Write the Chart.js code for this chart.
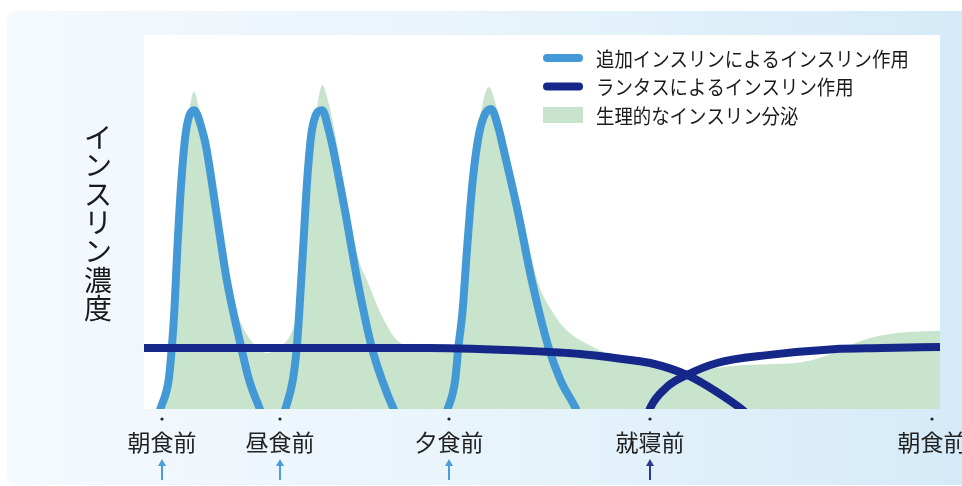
<!DOCTYPE html>
<html lang="ja">
<head>
<meta charset="utf-8">
<script src="https://cdn.jsdelivr.net/npm/chart.js@4/dist/chart.umd.min.js"></script>
<style>
  html, body { margin: 0; padding: 0; background: #fff; }
  #wrap { position: relative; width: 962px; height: 486px; }
</style>
</head>
<body>
<div id="wrap"><canvas id="insulinChart"></canvas></div>
<script>
// time axis runs 0..100 (one day, schematic), concentration 0..100
const tickTimes = [2.3, 17.1, 38.3, 63.6, 99.0];
const tickLabels = ['朝食前', '昼食前', '夕食前', '就寝前', '朝食前'];
const tickArrows = ['add', 'add', 'add', 'lantus', null];

const addTimes = [0.8, 2.1, 3.1, 3.5, 3.8, 4.2, 4.7, 5.3, 6.3, 7.3, 7.8, 9.1, 10.4, 12.2, 13.2, 14.5, 16.1,
  17.8, 18.7, 19.2, 19.5, 20.0, 20.5, 21.1, 22.4, 23.2, 23.7, 25.3, 26.8, 28.6, 29.9, 31.3, 34.7,
  38.2, 39.1, 39.5, 40.0, 40.6, 41.3, 42.2, 43.6, 44.6, 45.1, 47.0, 48.7, 50.8, 52.3, 54.2, 56.0];
const addValues = [-8.3, 0.3, 7.8, 16.6, 25.7, 43.3, 61.2, 74.6, 79.9, 74.6, 70.1, 52.4, 34.5, 16.6, 7.8, 0.3, -8.3,
  0.3, 7.8, 16.6, 25.7, 43.3, 61.2, 74.6, 79.9, 74.6, 70.1, 52.4, 34.5, 16.6, 7.8, 0.3, -13.6,
  0.3, 7.8, 16.6, 25.7, 43.3, 61.2, 74.6, 80.2, 74.6, 70.1, 52.4, 34.5, 16.6, 7.8, 0.3, -8.3];

const lantusTimes1 = [0, 19.6, 35.9, 48.5, 54.8, 61.1, 63.6, 68.2, 72.0, 75.5, 78.0];
const lantusValues1 = [16.3, 16.3, 16.3, 15.5, 14.7, 13.1, 12.3, 9.1, 4.5, -0.8, -6.1];
const lantusTimes2 = [62.7, 63.6, 65.7, 68.2, 72.0, 78.3, 86.6, 92.8, 100];
const lantusValues2 = [-5.6, 0.3, 5.9, 9.1, 12.3, 14.4, 16.0, 16.3, 16.6];

const physTimes = [0, 2.0, 2.5, 3.0, 3.5, 4.2, 4.9, 5.5, 6.3, 7.0, 7.9, 9.2, 10.7, 11.7, 13.4, 15.5, 17.1,
  18.5, 19.1, 19.9, 20.7, 21.5, 22.4, 23.1, 24.3, 25.6, 27.1, 28.0, 29.7, 31.8, 33.8, 37.2, 39.1,
  39.8, 40.6, 41.3, 42.2, 43.3, 44.4, 45.6, 47.5, 49.4, 51.4, 53.5, 56.4, 59.4, 63.6, 68.3, 75.8,
  82.8, 86.6, 90.3, 94.6, 100];
const physValues = [0, 0, 3.7, 10.4, 21.1, 37.2, 61.2, 76.7, 84.8, 79.4, 70.1, 52.4, 34.5, 25.7, 18.4, 15.0, 16.6,
  20.3, 25.1, 42.5, 61.2, 76.7, 86.6, 82.6, 70.1, 52.4, 39.0, 34.5, 25.7, 18.4, 16.6, 16.8, 17.1,
  25.7, 42.5, 61.2, 77.3, 86.1, 79.9, 70.1, 52.4, 34.5, 25.7, 20.3, 16.6, 13.9, 11.8, 10.4, 11.8,
  12.6, 15.0, 18.4, 20.3, 20.9];

const yTitle = 'インスリン濃度';

const FONT = '"Noto Sans CJK JP", "Noto Sans", sans-serif';
const ADD_COLOR = '#4399d6';
const LANTUS_COLOR = '#15288a';
const PHYS_COLOR = '#c9e4cd';

function toPoints(xs, ys) {
  return xs.map((x, i) => ({ x: x, y: ys[i] }));
}

// panel background + white plot area
const backgroundPlugin = {
  id: 'panelBackground',
  beforeDraw(c) {
    const ctx = c.ctx;
    const area = c.chartArea;
    ctx.save();
    const grad = ctx.createLinearGradient(7, 0, 962, 0);
    grad.addColorStop(0, '#f4f9fe');
    grad.addColorStop(0.5, '#e8f4fb');
    grad.addColorStop(1, '#d5eaf8');
    ctx.fillStyle = grad;
    ctx.beginPath();
    ctx.roundRect(7, 11, 980, 474, 9);
    ctx.fill();
    ctx.fillStyle = '#ffffff';
    ctx.fillRect(area.left, area.top, area.right - area.left, area.bottom - area.top);
    ctx.restore();
  }
};

// x labels with dots and arrows, vertical y title, legend
const decorPlugin = {
  id: 'decor',
  afterDraw(c) {
    const ctx = c.ctx;
    const xs = c.scales.x;
    const area = c.chartArea;
    ctx.save();
    ctx.textAlign = 'center';
    ctx.textBaseline = 'middle';
    tickTimes.forEach((t, i) => {
      const px = Math.round(xs.getPixelForValue(t));
      ctx.fillStyle = '#222';
      ctx.beginPath();
      ctx.arc(px, area.bottom + 10, 1.6, 0, Math.PI * 2);
      ctx.fill();
      ctx.font = '23px ' + FONT;
      ctx.fillText(tickLabels[i], px, area.bottom + 33);
      const kind = tickArrows[i];
      if (kind) {
        const col = kind === 'add' ? '#4a9fdb' : '#2b3a8f';
        ctx.strokeStyle = col;
        ctx.fillStyle = col;
        ctx.lineWidth = 2;
        ctx.beginPath();
        ctx.moveTo(px, area.bottom + 71);
        ctx.lineTo(px, area.bottom + 55);
        ctx.stroke();
        ctx.beginPath();
        ctx.moveTo(px, area.bottom + 50);
        ctx.lineTo(px - 4, area.bottom + 57);
        ctx.lineTo(px + 4, area.bottom + 57);
        ctx.closePath();
        ctx.fill();
      }
    });

    // vertical title, upright characters
    ctx.fillStyle = '#1a1a1a';
    ctx.font = '28px ' + FONT;
    const chars = Array.from(yTitle);
    chars.forEach((ch, i) => {
      ctx.fillText(ch, 98, 137 + i * 28.6);
    });

    // legend (the original face is a little condensed)
    const items = c.data.datasets.filter(d => !d.hideInLegend);
    ctx.textAlign = 'left';
    ctx.font = '20px ' + FONT;
    items.forEach((d, i) => {
      const cy = 58 + i * 28.5;
      if (d.fill) {
        ctx.fillStyle = d.backgroundColor;
        ctx.fillRect(543, cy - 8, 40, 16);
      } else {
        ctx.strokeStyle = d.borderColor;
        ctx.lineWidth = 8;
        ctx.lineCap = 'round';
        ctx.beginPath();
        ctx.moveTo(547, cy);
        ctx.lineTo(579, cy);
        ctx.stroke();
      }
      ctx.fillStyle = '#1a1a1a';
      const w = ctx.measureText(d.label).width * 0.92;
      ctx.fillText(d.label, 596, cy + 1, w);
    });
    ctx.restore();
  }
};

const chart = new Chart(document.getElementById('insulinChart'), {
  type: 'line',
  data: {
    datasets: [
      {
        label: '追加インスリンによるインスリン作用',
        data: toPoints(addTimes, addValues),
        borderColor: ADD_COLOR,
        borderWidth: 8,
        fill: false,
        order: 2
      },
      {
        label: 'ランタスによるインスリン作用',
        data: toPoints(lantusTimes1, lantusValues1),
        borderColor: LANTUS_COLOR,
        borderWidth: 8,
        fill: false,
        order: 1
      },
      {
        label: 'ランタスによるインスリン作用',
        data: toPoints(lantusTimes2, lantusValues2),
        borderColor: LANTUS_COLOR,
        borderWidth: 8,
        fill: false,
        hideInLegend: true,
        order: 1
      },
      {
        label: '生理的なインスリン分泌',
        data: toPoints(physTimes, physValues),
        borderWidth: 0,
        borderColor: PHYS_COLOR,
        backgroundColor: PHYS_COLOR,
        fill: 'origin',
        order: 3
      }
    ]
  },
  options: {
    responsive: true,
    maintainAspectRatio: false,
    animation: false,
    layout: { padding: { left: 144, top: 35, right: 22, bottom: 77 } },
    elements: {
      point: { radius: 0 },
      line: { cubicInterpolationMode: 'monotone' }
    },
    datasets: { line: { clip: 0 } },
    plugins: {
      legend: { display: false },
      tooltip: { enabled: false }
    },
    scales: {
      x: { type: 'linear', min: 0, max: 100, display: false },
      y: { min: 0, max: 100, display: false }
    }
  },
  plugins: [backgroundPlugin, decorPlugin]
});
</script>
</body>
</html>
